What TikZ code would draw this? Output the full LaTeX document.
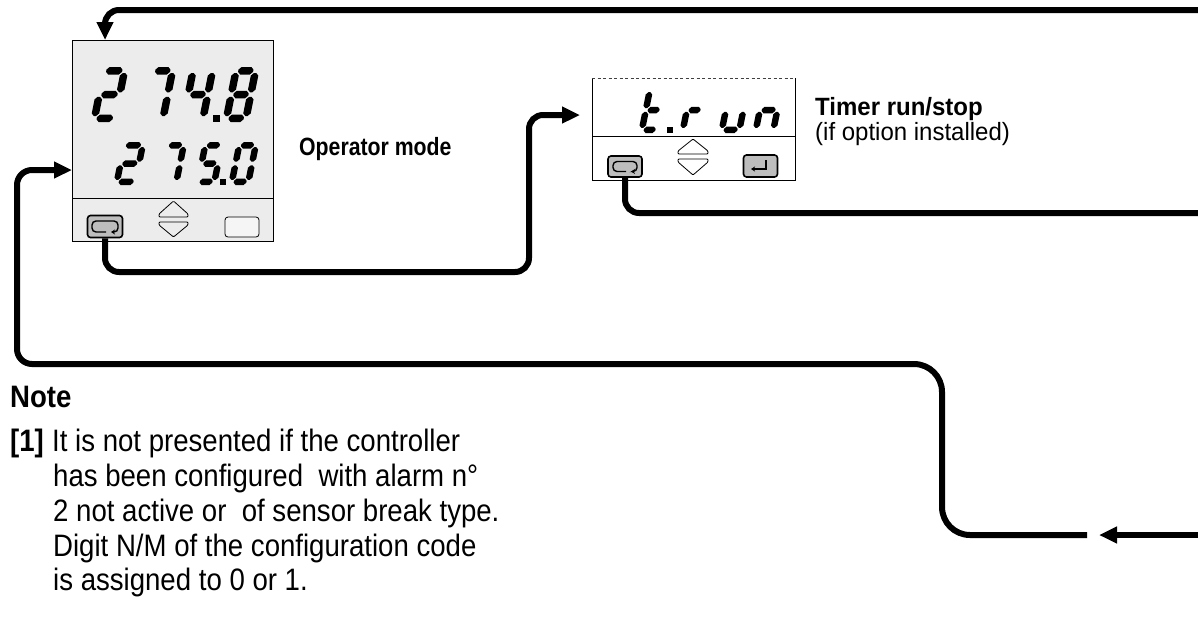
\documentclass[tikz,border=0pt]{standalone}
\usepackage{fontspec}
\setmainfont[FakeStretch=0.89]{Liberation Sans}
\newfontfamily\opfont[FakeStretch=0.85]{Liberation Sans}
\newfontfamily\tmfont[FakeStretch=0.96]{Liberation Sans}
\usetikzlibrary{arrows.meta}
\definecolor{panel}{gray}{0.925}
\definecolor{keyg}{gray}{0.74}

% seven-segment helpers (bevelled bars)
\newcommand\hsg[3]{\fill ({#1},{#3-\sgc}) -- ({#1},{#3+\sgc}) -- ({#1+\sgk},{#3+\sgh}) -- ({#2-\sgk},{#3+\sgh}) -- ({#2},{#3+\sgc}) -- ({#2},{#3-\sgc}) -- ({#2-\sgk},{#3-\sgh}) -- ({#1+\sgk},{#3-\sgh}) -- cycle;}
\newcommand\vsg[3]{\fill ({#1-\sgc},{#2}) -- ({#1+\sgc},{#2}) -- ({#1+\sgh},{#2-\sgk}) -- ({#1+\sgh},{#3+\sgk}) -- ({#1+\sgc},{#3}) -- ({#1-\sgc},{#3}) -- ({#1-\sgh},{#3+\sgk}) -- ({#1-\sgh},{#2-\sgk}) -- cycle;}
\def\sega{\hsg{\sgL+\sgG}{\sgR-\sgG}{\sgTp}}
\def\segb{\vsg{\sgR}{\sgTp-\sgG}{\sgM+\sgG}}
\def\segc{\vsg{\sgR}{\sgM-\sgG}{\sgB+\sgG}}
\def\segd{\hsg{\sgL+\sgG}{\sgR-\sgG}{\sgB}}
\def\sege{\vsg{\sgL}{\sgM-\sgG}{\sgB+\sgG}}
\def\segf{\vsg{\sgL}{\sgTp-\sgG}{\sgM+\sgG}}
\def\segg{\hsg{\sgL+\sgG}{\sgR-\sgG}{\sgM}}
\newcommand\sevseg[6]{%
 \begin{scope}[shift={(#1,#2)}, xslant=0.2, yscale=-1]
  \pgfmathsetmacro\sgh{#5/2}
  \pgfmathsetmacro\sgc{#5*0.15}
  \pgfmathsetmacro\sgk{#5*0.35}
  \pgfmathsetmacro\sgL{#5/2}
  \pgfmathsetmacro\sgR{#3-#5/2}
  \pgfmathsetmacro\sgTp{#4-#5/2}
  \pgfmathsetmacro\sgB{#5/2}
  \pgfmathsetmacro\sgM{#4/2}
  \pgfmathsetmacro\sgG{#5*0.3}
  \foreach \s in {#6}{\csname seg\s\endcsname}
 \end{scope}}

\begin{document}
\begin{tikzpicture}[x=1pt,y=-1pt,
  conn/.style={line width=6pt, rounded corners=14pt},
  tipT/.style={-{Triangle[length=18pt,width=16pt]}},
  keybox/.style={draw, line width=1.6pt, fill=keyg, rounded corners=3pt, inner sep=0pt, minimum width=35pt, minimum height=22pt},
  blankkey/.style={draw, line width=0.8pt, fill=white!96!black, rounded corners=3pt, inner sep=0pt, minimum width=34pt, minimum height=20pt},
  title/.style={anchor=base west, inner sep=0pt, font=\fontsize{25}{30}\selectfont\bfseries},
  sub/.style={anchor=base west, inner sep=0pt, font=\tmfont\fontsize{25}{30}\selectfont},
  body/.style={anchor=base west, inner sep=0pt, font=\fontsize{31}{35}\selectfont},
  updown/.style={line width=0.8pt, rounded corners=1pt}]
\useasboundingbox (0,0) rectangle (1198,622);

% ---------- device 1 (operator mode)
\node[draw, line width=1pt, fill=panel, minimum width=201pt, minimum height=201pt, anchor=north west, inner sep=0pt] (dev1) at (72,40) {};
\draw[line width=0.8pt] (72,198) -- (273,198);
\sevseg{90}{122}{28}{55}{7.5}{a,b,g,e,d}
\sevseg{139}{122}{27}{55}{7.5}{a,b,c}
\sevseg{179}{122}{27}{55}{7.5}{f,g,b,c}
\fill (213,115) rectangle (220,122);
\sevseg{222}{122}{27}{55}{7.5}{a,b,c,d,e,f,g}
\sevseg{113}{185}{25}{43}{6.5}{a,b,g,e,d}
\sevseg{156}{185}{23}{43}{6.5}{a,b,c}
\sevseg{194}{185}{23}{43}{6.5}{a,f,g,c,d}
\fill (220,179) rectangle (226,185);
\sevseg{228}{185}{23}{43}{6.5}{a,b,c,d,e,f}
\node[keybox] (k1) at (105,226.5) {};
\begin{scope}[shift={(k1.center)}]
 \draw[line width=1.4pt, rounded corners=4pt, -{Stealth[length=4pt,width=5pt]}] (1,5.5) -- (-13,5.5) -- (-13,-5.5) -- (13,-5.5) -- (13,5.5) -- (6,5.5);
\end{scope}
\draw[updown] (159,217) -- (159,214) -- (173.5,201) -- (188,214) -- (188,217) -- cycle;
\draw[updown] (159,222) -- (159,225) -- (173.5,237) -- (188,225) -- (188,222) -- cycle;
\node[blankkey] (k1b) at (242,227) {};
\node[title, font=\opfont\fontsize{25}{30}\selectfont\bfseries] (opm) at (299,155) {Operator mode};

% ---------- device 2 (timer run/stop)
\node[fill=white, minimum width=203pt, minimum height=102pt, anchor=north west, inner sep=0pt] (dev2) at (592,78) {};
\draw[line width=0.9pt] (dev2.north west) -- (dev2.south west) -- (dev2.south east) -- (dev2.north east);
\draw[line width=0.8pt, dash pattern=on 3pt off 2.5pt, black!75] (dev2.north west) -- (dev2.north east);
\draw[line width=0.8pt] (592,136) -- (795,136);
\sevseg{638}{133}{22}{46}{6.5}{f,e,g,d}
\fill (667,127) rectangle (673,133);
\sevseg{679}{133}{22}{46}{6.5}{e,g}
\sevseg{718}{133}{24}{46}{6.5}{e,d,c}
\sevseg{752}{133}{24}{46}{6.5}{e,g,c}
\node[keybox, minimum width=34pt, minimum height=21pt] (k2) at (625,166.5) {};
\begin{scope}[shift={(k2.center)}]
 \draw[line width=1.4pt, rounded corners=4pt, -{Stealth[length=4pt,width=5pt]}] (1,5) -- (-12,5) -- (-12,-5) -- (12,-5) -- (12,5) -- (6,5);
\end{scope}
\draw[updown] (678,154) -- (678,151) -- (693,139) -- (708,151) -- (708,154) -- cycle;
\draw[updown] (678,159) -- (678,162) -- (693,175) -- (708,162) -- (708,159) -- cycle;
\node[keybox, minimum width=34pt, minimum height=22pt] (k2b) at (760.5,166) {};
\draw[line width=1.4pt, -{Stealth[length=4pt,width=5pt]}] (766,160) -- (766,169) -- (751,169);
\node[title, font=\tmfont\fontsize{25}{30}\selectfont\bfseries] (trs) at (815,115) {Timer run/stop};
\node[sub] (opt) at (815,140) {(if option installed)};

% ---------- connectors
\coordinate (topR) at (1198,10);
\coordinate (midR) at (1198,213);
\coordinate (lowR) at (1198,535);
\coordinate (lowTip) at (1099,535);
\coordinate (lowEnd) at (1087,535);
\coordinate (a1) at (dev1.west |- 0,170);
\coordinate (a2) at (580,115);

\draw[conn, tipT] (topR) -| (dev1.north -| k1.center);
\draw[conn, tipT] (k1.south) |- (529,272) |- (a2);
\draw[conn] (k2.south) |- (midR);
\draw[conn, tipT] (lowR) -- (lowTip);
\draw[conn, tipT, rounded corners=28pt] (lowEnd) -- (942,535) -- (942,364) -- (600,364) [rounded corners=15pt] -- (17,364) -- (17,170) -- (a1);

% ---------- note
\node[anchor=base west, inner sep=0pt, font=\fontsize{31}{35}\selectfont\bfseries] (note) at (10,407) {Note};
\node[anchor=base west, inner sep=0pt, font=\fontsize{31}{35}\selectfont\bfseries] (n0) at (10,451) {[1]};
\node[body] (n1) at (52,451) {It is not presented if the controller};
\node[body] (n2) at (53,486) {has been configured\ \ with alarm n°};
\node[body] (n3) at (53,521) {2 not active or\ \ of sensor break type.};
\node[body] (n4) at (53,556) {Digit N/M of the configuration code};
\node[body] (n5) at (53,590) {is assigned to 0 or 1.};
\end{tikzpicture}
\end{document}
